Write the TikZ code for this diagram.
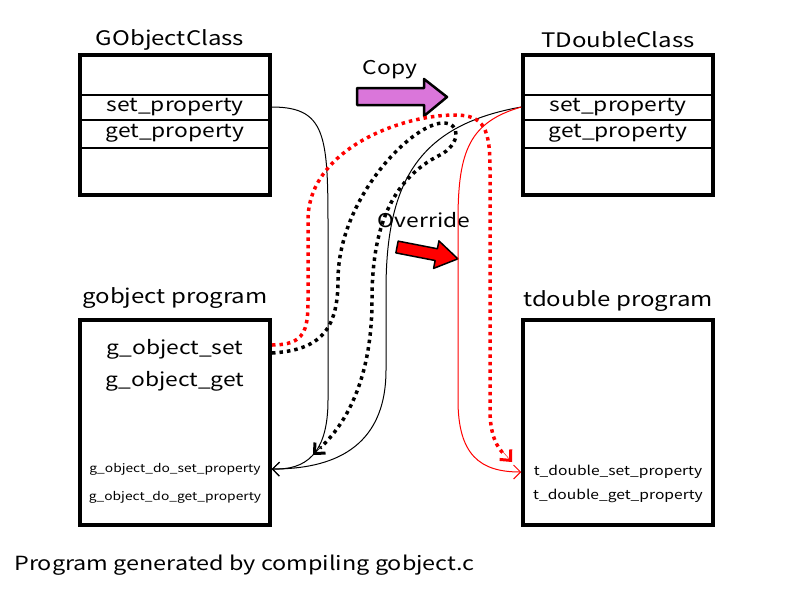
\documentclass[tikz,border=0pt]{standalone}
\usepackage{fontspec}
\setmainfont{Noto Sans CJK JP}[FakeStretch=1.2]
\usetikzlibrary{arrows.meta, positioning}

\tikzset{
    boxline/.style={line width=3.5pt},
    classbox/.style={draw, boxline, fill=white, minimum width=190pt, minimum height=140pt, inner sep=0pt},
    progbox/.style={draw, boxline, fill=white, minimum width=190pt, minimum height=205pt, inner sep=0pt},
    bigtext/.style={font=\fontsize{19}{19}\selectfont, inner sep=0pt},
    titletext/.style={font=\fontsize{20}{20}\selectfont, inner sep=0pt},
    smalltext/.style={font=\fontsize{11.5}{11.5}\selectfont, inner sep=0pt},
    tdtext/.style={font=\fontsize{13}{13}\selectfont, inner sep=0pt},
    dotline/.style={line width=3.5pt, dash pattern=on 3.5pt off 4pt},
    openhead/.style={-{Straight Barb[length=7pt, width=14pt, line width=1pt]}},
    thickhead/.style={-{Straight Barb[length=8pt, width=15pt, line width=3pt]}}
}

\begin{document}
\begin{tikzpicture}[x=1pt, y=-1pt]
    \useasboundingbox (0,0) rectangle (800,600);

    % =================================================================
    % 1. CLASS BOXES
    % =================================================================
    \node[classbox] (gclass) at (175,125) {};
    \node[classbox] (tclass) at (618,125) {};
    \foreach \yy in {95,120,148} {
        \draw[line width=1.5pt] (80,\yy) -- (270,\yy);
        \draw[line width=1.5pt] (523,\yy) -- (713,\yy);
    }
    \node[titletext] (gtitle) at (170,40) {GObjectClass};
    \node[titletext] (ttitle) at (618,40) {TDoubleClass};
    \node[bigtext] (gsetp) at (175,107) {set\_property};
    \node[bigtext] (ggetp) at (175,133) {get\_property};
    \node[bigtext] (tsetp) at (618,107) {set\_property};
    \node[bigtext] (tgetp) at (618,133) {get\_property};

    % =================================================================
    % 2. PROGRAM BOXES
    % =================================================================
    \node[progbox] (gprog) at (175,422.5) {};
    \node[progbox] (tprog) at (618,422.5) {};
    \node[titletext] (gptitle) at (175,298) {gobject program};
    \node[titletext] (tptitle) at (618,301) {tdouble program};
    \node[bigtext] (objset) at (175,349) {g\_object\_set};
    \node[bigtext] (objget) at (175,381) {g\_object\_get};
    \node[smalltext] (doset) at (175,469) {g\_object\_do\_set\_property};
    \node[smalltext] (doget) at (175,497) {g\_object\_do\_get\_property};
    \node[tdtext] (tdset) at (618,472) {t\_double\_set\_property};
    \node[tdtext] (tdget) at (618,496) {t\_double\_get\_property};

    % Copy / Override arrows
    \node[bigtext] (copy) at (390,70) {Copy};
    \draw[line width=2.5pt, line join=round, fill={rgb,255:red,218;green,118;blue,218}]
        (357,88) -- (424,88) -- (424,79) -- (447,97) -- (424,116) -- (424,105) -- (357,105) -- cycle;
    \node[bigtext] (override) at (424,220) {Override};
    \begin{scope}[shift={(397,247)}, rotate=-11]
        \draw[line width=1.5pt, line join=round, fill=red]
            (0,-6) -- (40,-6) -- (40,-14) -- (62,0) -- (40,14) -- (40,6) -- (0,6) -- cycle;
    \end{scope}

    % =================================================================
    % 3. CONNECTORS
    % =================================================================
    \coordinate (reddotend) at (512,462);
    \coordinate (blkdotend) at (313,455);

    % gobject set_property -> g_object_do_set_property
    \draw[line width=1pt, openhead] (gclass.east |- gsetp)
        .. controls (330,107) and (328,140) .. (328,250) -- (328,400)
        .. controls (328,455) and (305,470) .. (gprog.east |- doset);
    % tdouble set_property -> g_object_do_set_property
    \draw[line width=1pt, openhead] (tclass.west |- tsetp)
        .. controls (420,125) and (386,180) .. (386,290) -- (386,370)
        .. controls (386,450) and (330,469) .. (gprog.east |- doset);
    % tdouble set_property -> t_double_set_property
    \draw[line width=1pt, red, openhead] (tclass.west |- tsetp)
        .. controls (470,122) and (458,150) .. (458,220) -- (458,400)
        .. controls (458,455) and (480,472) .. (tprog.west |- tdset);

    % g_object_set call chain (red dotted)
    \draw[dotline, red] (272,345)
        .. controls (305,345) and (308,330) .. (308,300) -- (308,220)
        .. controls (308,150) and (400,115) .. (455,115)
        .. controls (485,115) and (490,130) .. (490,170) -- (490,410)
        .. controls (490,435) and (497,448) .. (505,455);
    \draw[red, thickhead] (503,452) -- (reddotend);

    % g_object_set call chain (black dotted)
    \draw[dotline] (272,353)
        .. controls (320,350) and (338,330) .. (338,280)
        .. controls (338,200) and (410,125) .. (442,123)
        .. controls (462,122) and (460,145) .. (440,155)
        .. controls (390,180) and (372,230) .. (372,300)
        .. controls (372,380) and (345,425) .. (320,448);
    \draw[thickhead] (322,446) -- (blkdotend);

    % =================================================================
    % 4. FOOTER
    % =================================================================
    \node[font=\fontsize{19.5}{19.5}\selectfont, inner sep=0pt, anchor=west] (footer) at (14,565) {Program generated by compiling gobject.c};

\end{tikzpicture}
\end{document}
